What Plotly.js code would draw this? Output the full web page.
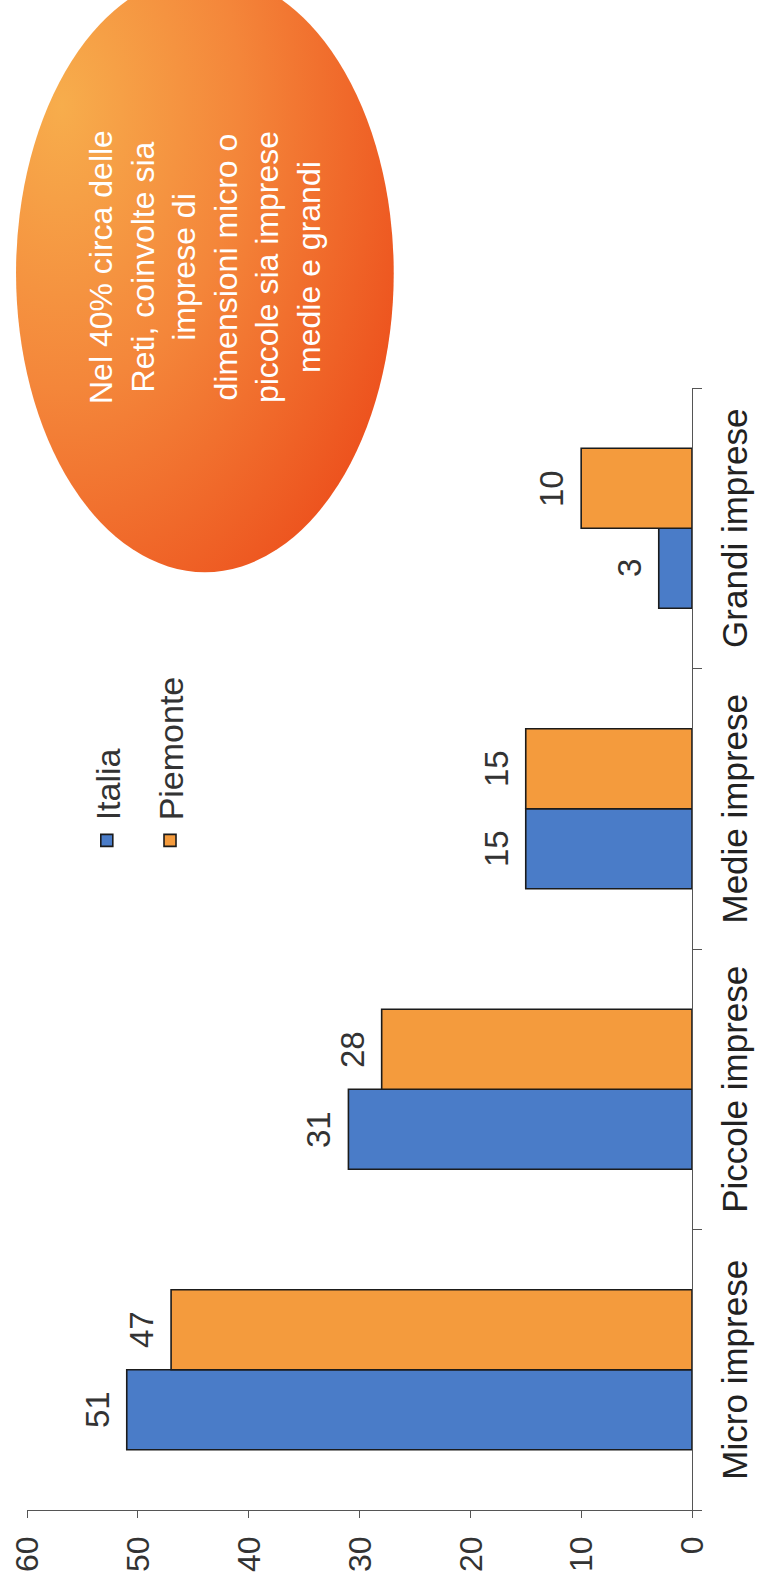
<!DOCTYPE html>
<html>
<head>
<meta charset="utf-8">
<script src="https://cdn.plot.ly/plotly-3.0.1.min.js"></script>
<style>
  html, body { margin:0; padding:0; background:#fff; }
  body { width:758px; height:1589px; overflow:hidden; position:relative; }
  #wrap { position:absolute; left:0; top:0; width:1589px; height:758px;
          transform-origin:0 0; transform: translateY(1589px) rotate(-90deg); }
  #chart { width:1589px; height:758px; }
</style>
</head>
<body>
<div id="wrap"><div id="chart"></div></div>
<script>
// ---- data ----
const categories = ['Micro imprese', 'Piccole imprese', 'Medie imprese', 'Grandi imprese'];
const italia = [51, 31, 15, 3];
const piemonte = [47, 28, 15, 10];
const seriesNames = ['Italia', 'Piemonte'];
const yTicks = [0, 10, 20, 30, 40, 50, 60];
const noteLines = ['Nel 40% circa delle', 'Reti, coinvolte sia', 'imprese di',
                   'dimensioni micro o', 'piccole sia imprese', 'medie e grandi'];

// ---- style ----
const FONT = 'Liberation Sans, Arial, sans-serif';
const BLUE = '#4a7cc8';
const ORANGE = '#f49b3d';
const BARGAP = 0.43;
const half = (1 - BARGAP) / 4; // offset of each bar centre from category centre

const traces = [
  { type:'bar', name: seriesNames[0], x: categories, y: italia, legendgroup:'a',
    marker:{ color: BLUE, line:{ color:'#1b1b1b', width:1.6 } }, hoverinfo:'none' },
  { type:'bar', name: seriesNames[1], x: categories, y: piemonte, legendgroup:'b',
    marker:{ color: ORANGE, line:{ color:'#1b1b1b', width:1.6 } }, hoverinfo:'none' }
];

const annotations = [];
[italia, piemonte].forEach((vals, s) => {
  vals.forEach((v, i) => {
    annotations.push({
      x: i + (s === 0 ? -half : half), y: v, xref:'x', yref:'y',
      text: String(v), showarrow:false, yanchor:'bottom', yshift: 9,
      font:{ family: FONT, size: 33, color:'#333' }
    });
  });
});
annotations.push({
  xref:'paper', yref:'paper', x: 1.108, y: 0.732, xanchor:'center', yanchor:'middle',
  text: noteLines.join('<br>'), showarrow:false, align:'center',
  font:{ family: FONT, size: 32, color:'#ffffff' }
});

const svg = "<svg xmlns='http://www.w3.org/2000/svg' width='600' height='380' viewBox='0 0 600 380' preserveAspectRatio='none'>" +
  "<defs><radialGradient id='g' cx='0.78' cy='0.12' r='1.05'>" +
  "<stop offset='0' stop-color='#f7ad4c'/><stop offset='0.45' stop-color='#f4863a'/>" +
  "<stop offset='1' stop-color='#ec4b1a'/></radialGradient></defs>" +
  "<ellipse cx='300' cy='190' rx='299' ry='189' fill='url(#g)'/></svg>";

const layout = {
  width: 1589, height: 758,
  margin:{ l:79, r:388, t:27, b:66 },
  paper_bgcolor:'#ffffff', plot_bgcolor:'#ffffff',
  font:{ family: FONT, color:'#333' },
  barmode:'group', bargap: BARGAP, bargroupgap: 0,
  showlegend: true,
  legend:{ x:0.579, y:0.923, xanchor:'left', yanchor:'top', tracegroupgap: 16,
           font:{ family: FONT, size: 34, color:'#333' }, bgcolor:'rgba(0,0,0,0)' },
  xaxis:{ type:'category', showline:true, linecolor:'#555', linewidth:1,
          ticks:'outside', tickson:'boundaries', ticklen:9, tickcolor:'#555',
          tickfont:{ family: FONT, size: 35, color:'#222' }, ticklabelstandoff: 12,
          showgrid:false, zeroline:false, fixedrange:true },
  yaxis:{ range:[0, 60], tickvals: yTicks, showline:true, linecolor:'#555', linewidth:1,
          ticks:'outside', ticklen:7, tickcolor:'#555',
          tickfont:{ family: FONT, size: 32, color:'#333' }, ticklabelstandoff: 12,
          showgrid:false, zeroline:false, fixedrange:true },
  images:[{ source:'data:image/svg+xml;charset=utf-8,' + encodeURIComponent(svg),
            xref:'paper', yref:'paper', x:0.835, y:1.018, sizex:0.535, sizey:0.571,
            xanchor:'left', yanchor:'top', sizing:'stretch', layer:'below' }],
  annotations: annotations
};

Plotly.newPlot('chart', traces, layout, { staticPlot:true, displayModeBar:false });
</script>
</body>
</html>
